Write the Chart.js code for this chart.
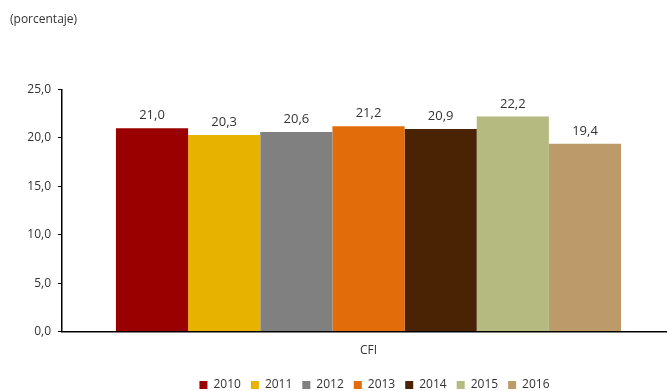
<!DOCTYPE html>
<html>
<head>
<meta charset="utf-8">
<script src="https://cdn.jsdelivr.net/npm/chart.js@4/dist/chart.umd.min.js"></script>
<style>
  html, body { margin: 0; padding: 0; background: #fff; overflow: hidden; }
  #wrap { width: 675px; height: 391px; position: relative; }
</style>
</head>
<body>
<div id="wrap"><canvas id="myChart"></canvas></div>
<script>
var categories = ['CFI'];
var years = ['2010', '2011', '2012', '2013', '2014', '2015', '2016'];
var values = [21.0, 20.3, 20.6, 21.2, 20.9, 22.2, 19.4];
var colors = ['#9b0000', '#e8b300', '#808080', '#e36c0a', '#4a2305', '#b5ba80', '#bd9a6a'];
var yTicks = [0, 5, 10, 15, 20, 25];

function fmt(v){
	return v.toFixed(1).replace('.', ',');
}

var datasets = [];
for(var i = 0; i < years.length; i++){
	datasets.push({
		label: years[i],
		data: [values[i]],
		backgroundColor: colors[i],
		borderWidth: 0
	});
}

// writes the value above every bar
var valueLabels = {
	id: 'valueLabels',
	afterDatasetsDraw: function(chart){
		var ctx = chart.ctx;
		ctx.save();
		ctx.font = '13px "Open Sans"';
		ctx.fillStyle = '#333333';
		ctx.textAlign = 'center';
		ctx.textBaseline = 'bottom';
		chart.data.datasets.forEach(function(ds, i){
			var meta = chart.getDatasetMeta(i);
			meta.data.forEach(function(bar, j){
				ctx.fillText(fmt(ds.data[j]), bar.x, bar.y - 6);
			});
		});
		ctx.restore();
	}
};

// legend sits a little lower and to the right, under the bars
var legendShift = {
	id: 'legendShift',
	afterLayout: function(chart){
		var lg = chart.legend;
		lg.left += 32; lg.right += 32;
		lg.top += 7; lg.bottom += 7;
	}
};

Chart.defaults.font.family = '"Open Sans", sans-serif';
Chart.defaults.color = '#333333';

const ctx = document.getElementById('myChart');
var chart = new Chart(ctx, {
	type: 'bar',
	data: {
		labels: categories,
		datasets: datasets
	},
	options: {
		responsive: true,
		maintainAspectRatio: false,
		animation: false,
		layout: { padding: { left: 10, right: 0, top: 0, bottom: -3 } },
		datasets: {
			bar: { categoryPercentage: 0.824, barPercentage: 1.0 }
		},
		scales: {
			x: {
				grid: { display: false },
				border: { display: true, color: '#000000', width: 1.5 },
				ticks: { font: { size: 12 }, color: '#333333', padding: 4 }
			},
			y: {
				min: 0,
				max: 25,
				afterBuildTicks: function(axis){
					axis.ticks = yTicks.map(function(v){ return { value: v }; });
				},
				grid: { drawOnChartArea: false, drawTicks: true, tickLength: 4, color: '#000000' },
				border: { display: true, color: '#000000', width: 1.5 },
				ticks: {
					font: { size: 12 },
					color: '#333333',
					padding: 7,
					callback: function(v){ return fmt(v); }
				},
				afterFit: function(axis){ axis.width = 52; }
			}
		},
		plugins: {
			title: {
				display: true,
				text: '(porcentaje)',
				align: 'start',
				color: '#333333',
				font: { size: 12, weight: 'normal' },
				padding: { top: 12, bottom: 63 }
			},
			legend: {
				position: 'bottom',
				labels: {
					boxWidth: 8,
					boxHeight: 8,
					padding: 10,
					font: { size: 12 },
					color: '#333333'
				}
			},
			tooltip: { enabled: false }
		}
	},
	plugins: [valueLabels, legendShift]
});
</script>
</body>
</html>
